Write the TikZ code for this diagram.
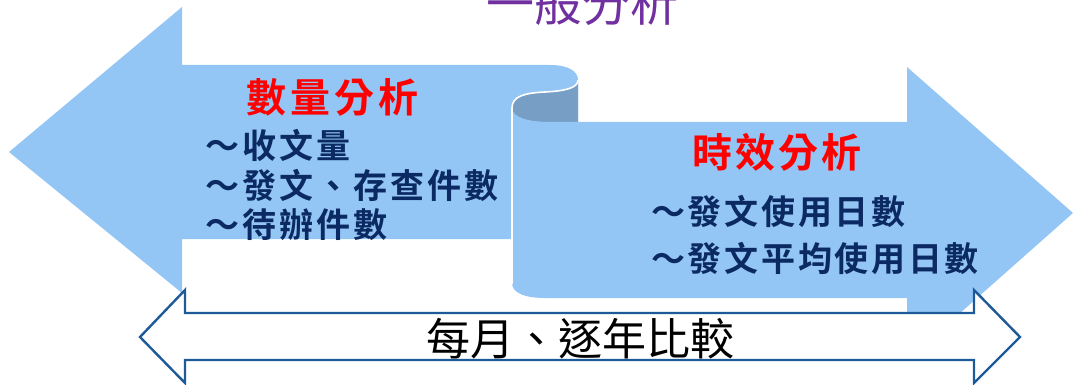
\documentclass[tikz,border=0pt]{standalone}
\usepackage{fontspec}
\newfontfamily\cjk{Noto Sans CJK TC}
\newfontfamily\cjkb{Noto Sans CJK TC Bold}
\definecolor{bandblue}{HTML}{93C6F4}
\definecolor{curlblue}{HTML}{779FC6}
\definecolor{navytext}{HTML}{0B2A63}
\definecolor{arrowline}{HTML}{1F5A98}
\definecolor{titlepurple}{HTML}{7030A0}
\tikzset{
  band/.style={fill=bandblue, draw=none},
  curl/.style={fill=curlblue, draw=none},
  edge/.style={draw=white, line width=1.6pt},
  dblarrow/.style={draw=arrowline, fill=white, line width=2.4pt, line join=miter},
  head/.style={inner sep=0pt, text=red, font={\cjkb\fontsize{40}{44}\selectfont}},
  item/.style={inner sep=0pt, text=navytext, align=left, font={\cjkb\fontsize{34}{40}\selectfont}},
}
\begin{document}
\begin{tikzpicture}[x=1pt,y=-1pt]
\useasboundingbox (0,0) rectangle (1073,385);
\clip (0,0) rectangle (1073,385);
% left band (arrow pointing left)
\path[band] (9,152) -- (182,7) -- (182,65) -- (550,65)
  .. controls (568,65) and (578,71) .. (578,80) -- (578,122) -- (512,122)
  -- (512,239) -- (182,239) -- (182,293) -- cycle;
% back face of the curl
\path[curl] (512,108) .. controls (512,96) and (525,93) .. (545,92)
  .. controls (565,91) and (578,88) .. (578,80) -- (578,122) -- (548,122)
  .. controls (530,122) and (512,118) .. (512,108) -- cycle;
% right band (arrow pointing right)
\path[band] (512,108) .. controls (512,118) and (530,122) .. (548,122)
  -- (907,122) -- (907,67) -- (1073,213) -- (907,360) -- (907,298)
  -- (545,298) .. controls (525,298) and (512,293) .. (512,283) -- cycle;
\draw[edge] (578,80) .. controls (578,88) and (565,91) .. (545,92)
  .. controls (525,93) and (512,96) .. (512,108) -- (512,284);
% double arrow
\path[dblarrow] (140,337) -- (185,290) -- (185,313) -- (974,313) -- (974,290)
  -- (1020,337) -- (974,383) -- (974,360) -- (185,360) -- (185,383) -- cycle;
% title
\node[inner sep=0pt, anchor=base, text=titlepurple, font={\cjk\fontsize{48}{52}\selectfont}] (title) at (582,22) {一般分析};
% left texts
\node[head, anchor=center] (qty) at (332,97) {\addfontfeature{LetterSpace=10}數量分析};
\node[item, anchor=west] (l1) at (205,145) {\addfontfeature{LetterSpace=9}～收文量};
\node[item, anchor=west] (l2) at (205,185) {\addfontfeature{LetterSpace=9}～發文、存查件數};
\node[item, anchor=west] (l3) at (205,225) {\addfontfeature{LetterSpace=9}～待辦件數};
% right texts
\node[head, anchor=center] (time) at (777,152) {\addfontfeature{LetterSpace=7}時效分析};
\node[item, anchor=west] (r1) at (651,211) {\addfontfeature{LetterSpace=8}～發文使用日數};
\node[item, anchor=west] (r2) at (651,258) {\addfontfeature{LetterSpace=8}～發文平均使用日數};
% bottom text
\node[inner sep=0pt, text=black, font={\cjk\fontsize{44}{48}\selectfont}] (cmp) at (580,339) {每月、逐年比較};
\end{tikzpicture}
\end{document}
